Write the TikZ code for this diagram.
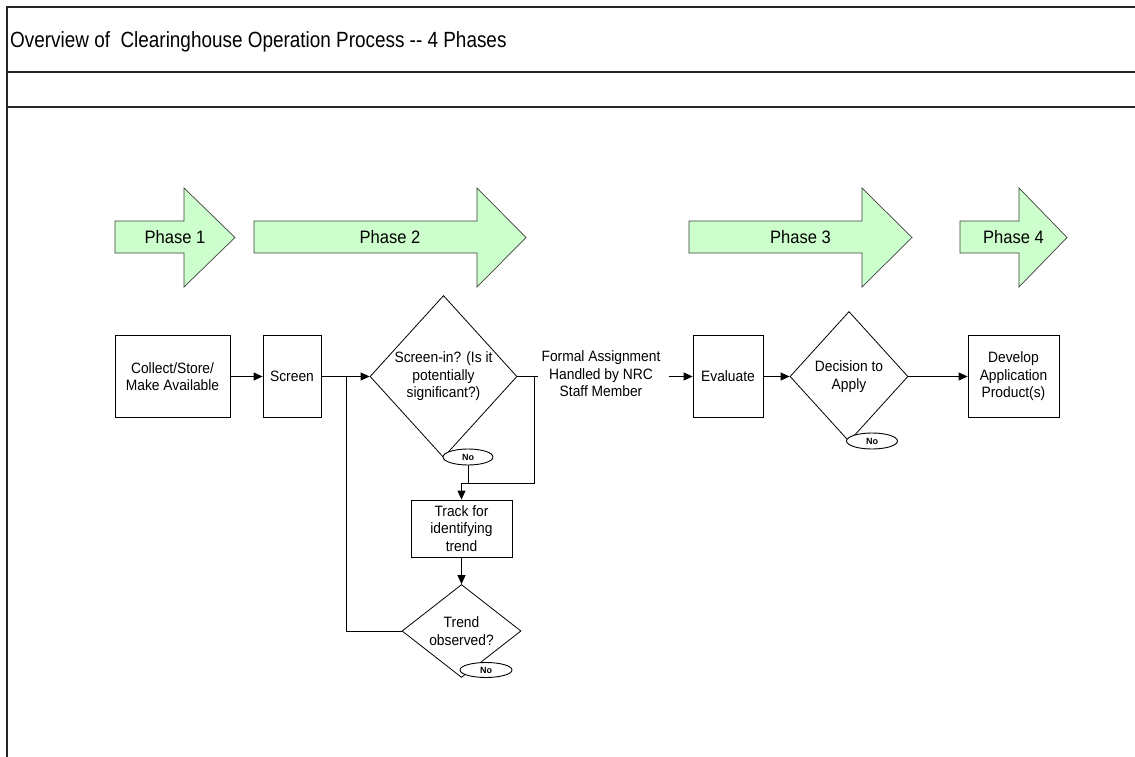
\documentclass[tikz,border=0pt]{standalone}
\usepackage{fontspec}
\usepackage{graphicx}
\setmainfont{Liberation Sans}
\newfontfamily\bodyfont[FakeStretch=0.92]{Liberation Sans}
\newfontfamily\titlefont[FakeStretch=0.86]{Liberation Sans}
\usetikzlibrary{shapes.geometric,arrows.meta}
\definecolor{phasegreen}{HTML}{CCFFCC}
\newcommand{\phasearrow}[5]{%
  \draw[phaseshape] (#2,221) -- (#3,221) -- (#3,188) -- (#4,237.5) -- (#3,287) -- (#3,253) -- (#2,253) -- cycle;
  \node[phasetext] (#1) at ({(#2+#4)/2},237.5) {#5};}
\begin{document}
\begin{tikzpicture}[x=1pt,y=-1pt,
  phaseshape/.style={fill=phasegreen, draw=black!75, line width=0.7pt, line join=miter},
  phasetext/.style={font=\bodyfont\fontsize{18}{21}\selectfont, inner sep=0pt},
  box/.style={draw, line width=0.8pt, inner sep=0pt, align=center, font=\bodyfont\fontsize{15}{17.5}\selectfont},
  dec/.style={diamond, draw, line width=0.8pt, inner sep=0pt, align=center, font=\bodyfont\fontsize{15}{17.5}\selectfont},
  noell/.style={ellipse, draw, fill=white, line width=0.9pt, inner sep=0pt, font=\bfseries\fontsize{9}{10}\selectfont},
  conn/.style={line width=0.8pt},
  arr/.style={line width=0.8pt, -{Triangle[length=9pt,width=8pt]}},
  frame/.style={line width=1.1pt, draw=black!85}]
\useasboundingbox (0,0) rectangle (1135,757);
\fill[white] (0,0) rectangle (1135,757);
% frame
\draw[frame] (1135,7) -- (7,7) -- (7,757);
\draw[frame] (7,72) -- (1135,72);
\draw[frame] (7,107) -- (1135,107);
\node[anchor=base west, inner sep=0pt, font=\titlefont\fontsize{22}{26}\selectfont] (title) at (10,48)
  {Overview of\ \ Clearinghouse Operation Process -{}- 4 Phases};
% phase arrows
\phasearrow{p1}{115}{184}{235}{Phase 1}
\phasearrow{p2}{254}{477}{526}{Phase 2}
\phasearrow{p3}{689}{862}{912}{Phase 3}
\phasearrow{p4}{960}{1019}{1067}{Phase 4}
% nodes
\node[box, minimum width=115pt, minimum height=82pt] (collect) at (172.5,376.5) {Collect/Store/\\Make Available};
\node[box, minimum width=58pt, minimum height=82pt] (screen) at (292,376.5) {Screen};
\node[dec, minimum width=147pt, minimum height=162pt] (sdec) at (443.5,376.5) {Screen-in? (Is it\\potentially\\significant?)};
\node[noell, minimum width=50pt, minimum height=16pt] (sno) at (468,457) {No};
\node[align=center, inner sep=0pt, font=\bodyfont\fontsize{15}{17.5}\selectfont] (formal) at (601,374) {Formal Assignment\\Handled by NRC\\Staff Member};
\node[box, minimum width=70pt, minimum height=82pt] (eval) at (728,376.5) {Evaluate};
\node[dec, minimum width=118pt, minimum height=130pt] (ddec) at (849,376.5) {Decision to\\Apply};
\node[noell, minimum width=51pt, minimum height=16pt] (dno) at (872,441) {No};
\node[box, minimum width=91pt, minimum height=82pt] (dev) at (1013.5,376.5) {Develop\\Application\\Product(s)};
\node[box, minimum width=101pt, minimum height=57pt] (track) at (461.5,528.5) {Track for\\identifying\\trend};
\node[dec, minimum width=119pt, minimum height=82pt] (tdec) at (461.5,631) {Trend\\observed?};
\node[noell, minimum width=52pt, minimum height=15pt] (tno) at (486,670) {No};
% junction coordinates
\coordinate (j1) at (346,376.5);
\coordinate (j2) at (534,376.5);
\coordinate (j3) at (461.5,483);
% connectors
\draw[arr] (collect.east) -- (screen.west);
\draw[conn] (screen.east) -- (j1);
\draw[arr] (j1) -- (sdec.west);
\draw[conn] (sdec.east) -- ([xshift=-3pt]formal.west |- sdec.east);
\draw[conn] (j2) -- (j2 |- j3) -- (j3);
\draw[conn] (sno.south) -- (sno.south |- j3) -- (j3);
\draw[arr] (j3) -- (track.north);
\draw[arr] (track.south) -- (tdec.north);
\draw[conn] (tdec.west) -- (j1 |- tdec.west) -- (j1);
\draw[arr] ([xshift=8pt]formal.east |- eval.west) -- (eval.west);
\draw[arr] (eval.east) -- (ddec.west);
\draw[arr] (ddec.east) -- (dev.west);
\end{tikzpicture}
\end{document}
